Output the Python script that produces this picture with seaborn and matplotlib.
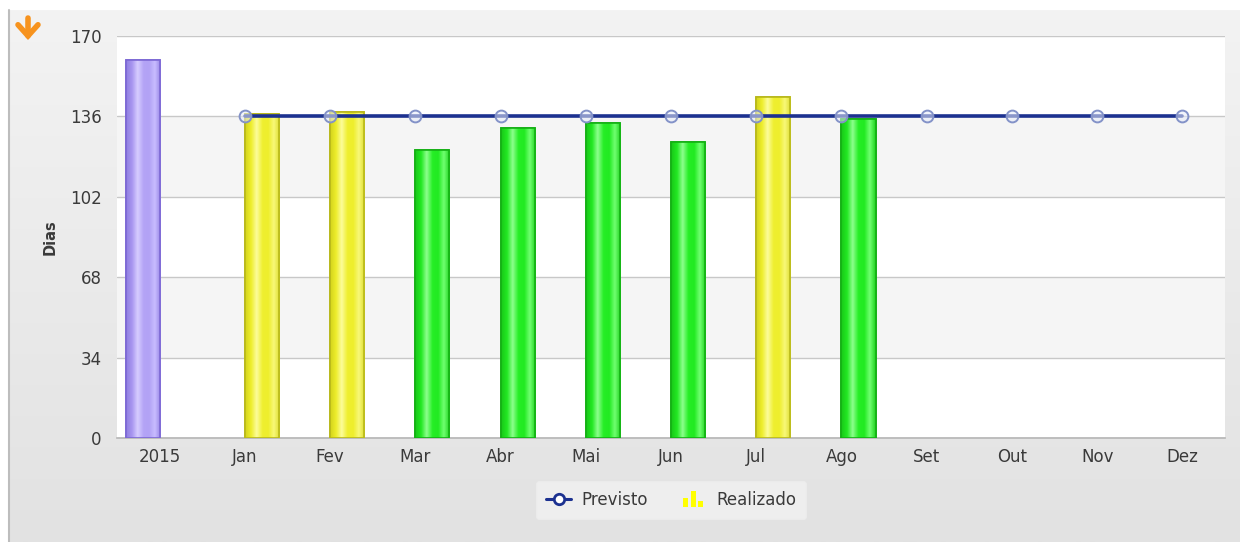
import numpy as np
import pandas as pd
import matplotlib
matplotlib.use("Agg")
import matplotlib.pyplot as plt
import seaborn as sns
from matplotlib.lines import Line2D
from matplotlib.patches import Rectangle, FancyArrowPatch
from matplotlib.legend_handler import HandlerBase
from matplotlib.colors import LinearSegmentedColormap

# ---------------- data ----------------
categorias = ["2015", "Jan", "Fev", "Mar", "Abr", "Mai", "Jun", "Jul", "Ago",
              "Set", "Out", "Nov", "Dez"]
realizado = [160, 137, 138, 122, 131, 133, 125, 144, 135,
             np.nan, np.nan, np.nan, np.nan]
previsto = [np.nan, 136, 136, 136, 136, 136, 136, 136, 136, 136, 136, 136, 136]
grupo = ["Ano"] + ["Mês"] * 12
y_ticks = [0, 34, 68, 102, 136, 170]
y_label = "Dias"
legend_labels = ["Previsto", "Realizado"]

# ---------------- style ----------------
sns.set_theme(style="white")
plt.rcParams['font.family'] = ['DejaVu Sans']
TXT = "#3a3a3a"

fig = plt.figure(figsize=(12.4, 5.42), dpi=100)
fig.patch.set_facecolor("white")

# panel background (gradient)
bg = fig.add_axes([0, 0, 1, 1], zorder=-10)
bg.set_xlim(0, 1)
bg.set_ylim(0, 1)
bg.axis("off")
grad = np.linspace(0, 1, 256).reshape(-1, 1)
cmap_bg = LinearSegmentedColormap.from_list("bg", ["#f3f3f3", "#e2e2e2"])
bg.imshow(grad, aspect="auto", cmap=cmap_bg, origin="upper",
          extent=[9 / 1240, 1, 0, 1 - 10 / 542])
bg.plot([9 / 1240, 9 / 1240], [0, 1 - 10 / 542], color="#bdbdbd", lw=1.5)

ax = fig.add_axes([117 / 1240, 1 - 438 / 542, 1108 / 1240, 402 / 542])
ax.set_facecolor("white")

df = pd.DataFrame({"categoria": categorias, "realizado": realizado,
                   "grupo": grupo}).dropna(subset=["realizado"])
sns.barplot(data=df, x="categoria", y="realizado", hue="grupo",
            order=categorias, hue_order=["Ano", "Mês"], dodge=True,
            width=0.8, saturation=1, legend=False, ax=ax, zorder=3)

bars = []
for cont in ax.containers:
    for p in cont.patches:
        if np.isfinite(p.get_height()) and p.get_height() > 0:
            bars.append(p)

# alternating bands (added after the bars were collected)
for i in range(len(y_ticks) - 1):
    ax.axhspan(y_ticks[i], y_ticks[i + 1],
               color="white" if i % 2 == 0 else "#f5f5f5", zorder=0, lw=0)

styles = {
    "purple": (["#8f7ee0", "#a896f0", "#d6ccff", "#b4a4f6", "#b2a2f5", "#c8bcff", "#9886e6"], "#7c68d4"),
    "yellow": (["#d4d41c", "#eeee2c", "#fcfc9a", "#efef30", "#eeee2c", "#f8f878", "#dede30"], "#b8b81a"),
    "green":  (["#18c818", "#22e822", "#8cff8c", "#26ee26", "#22ea22", "#70ff70", "#20d420"], "#14b014"),
}

for p in bars:
    idx = int(round(p.get_x() + p.get_width() / 2))
    h = p.get_height()
    if idx == 0:
        key = "purple"
    elif h > previsto[idx]:
        key = "yellow"
    else:
        key = "green"
    cols, edge = styles[key]
    p.set_facecolor(cols[3])
    p.set_edgecolor(edge)
    p.set_linewidth(1.2)
    cm = LinearSegmentedColormap.from_list(key, cols)
    g = np.linspace(0, 1, 64).reshape(1, -1)
    im = ax.imshow(g, cmap=cm, aspect="auto",
                   extent=[p.get_x(), p.get_x() + p.get_width(), 0, h],
                   zorder=3.5)
    im.set_clip_path(p)
    ax.add_patch(Rectangle((p.get_x(), 0), p.get_width(), h, fill=False,
                           edgecolor=edge, lw=1.2, zorder=3.6))

# previsto line
sns.lineplot(x=np.arange(len(categorias)), y=previsto, ax=ax, color="#1c3190",
             lw=2.6, marker="o", markersize=8.5,
             markerfacecolor=(0.9, 0.92, 0.98, 0.55), markeredgecolor="#8392c8",
             markeredgewidth=1.4, zorder=6)

ax.set_xlim(-0.5, len(categorias) - 0.5)
ax.set_ylim(0, 170)
ax.set_yticks(y_ticks)
ax.set_xticks(range(len(categorias)))
ax.set_xticklabels(categorias)
ax.yaxis.grid(True, color="#c8c8c8", lw=1, zorder=1)
ax.xaxis.grid(False)
ax.set_axisbelow(True)
for s in ["top", "right", "left"]:
    ax.spines[s].set_visible(False)
ax.spines["bottom"].set_color("#b5b5b5")
ax.spines["bottom"].set_linewidth(1.2)
ax.tick_params(axis="both", length=0, labelsize=12, colors=TXT)
ax.tick_params(axis="y", pad=11)
ax.tick_params(axis="x", pad=7)
ax.set_xlabel("")
ax.set_ylabel(y_label, fontsize=10.5, fontweight="bold", color=TXT)
ax.yaxis.set_label_coords(-0.054, 0.5)

# orange arrow
fig.add_artist(FancyArrowPatch(
    (28 / 1240, 1 - 18 / 542), (28 / 1240, 1 - 40 / 542),
    transform=fig.transFigure, arrowstyle="->,head_length=0.4,head_width=0.36",
    color="#f7931e", lw=4.0, mutation_scale=20, shrinkA=0, shrinkB=0,
    capstyle="round", joinstyle="miter"))


class BarsHandler(HandlerBase):
    def create_artists(self, legend, orig_handle, xdescent, ydescent,
                       width, height, fontsize, trans):
        x0, y0 = -xdescent, -ydescent
        bw = width * 0.2
        gap = width * 0.1
        start = x0 + (width - 3 * bw - 2 * gap) / 2
        hs = [0.75, 1.35, 0.5]
        arts = []
        base = y0 - height * 0.15
        for i, hh in enumerate(hs):
            r = Rectangle((start + i * (bw + gap), base), bw,
                          height * hh, facecolor="#ffff00", edgecolor="none",
                          transform=trans)
            arts.append(r)
        return arts


line_handle = Line2D([], [], color="#1c3190", lw=2.2, marker="o", markersize=7.5,
                     markerfacecolor="white", markeredgecolor="#1c3190",
                     markeredgewidth=2)
bar_handle = Rectangle((0, 0), 1, 1, facecolor="#ffff00")
leg = fig.legend([line_handle, bar_handle], legend_labels, loc="center",
                 bbox_to_anchor=(671 / 1240, 1 - 500 / 542), ncol=2,
                 frameon=True, fancybox=True, facecolor="#f2f2f2",
                 edgecolor="#ececec", fontsize=12, handlelength=1.5,
                 handletextpad=0.6, columnspacing=2.0, borderpad=0.6,
                 handler_map={bar_handle: BarsHandler()})
for t in leg.get_texts():
    t.set_color(TXT)
leg.get_frame().set_linewidth(0.8)

fig.savefig("out.png", dpi=100, facecolor=fig.get_facecolor())
